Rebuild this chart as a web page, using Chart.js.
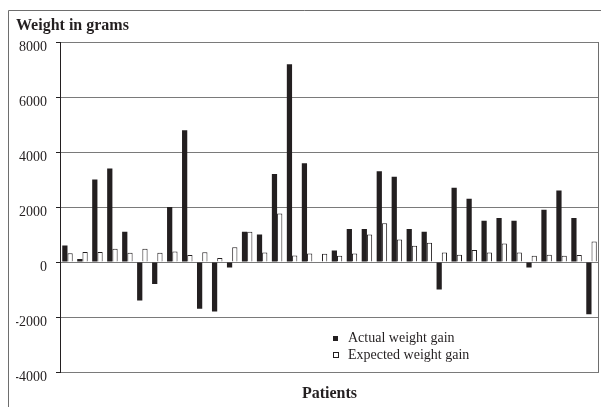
<!DOCTYPE html>
<html>
<head>
<meta charset="utf-8">
<script src="https://cdn.jsdelivr.net/npm/chart.js@4"></script>
<style>
    html, body { margin: 0; padding: 0; background: #fff; }
    #box { width: 601px; height: 407px; }
</style>
</head>
<body>
<div id="box"><canvas id="weight_chart"></canvas></div>
<script>
// patients 1..36, weight gain in grams
const patients = Array.from({ length: 36 }, (_, i) => "P" + (i + 1))
const actual_gain = [600, 110, 3000, 3400, 1100, -1400, -800, 2000, 4800, -1700,
    -1800, -200, 1100, 1000, 3200, 7200, 3600, 0, 420, 1200,
    1200, 3300, 3100, 1200, 1100, -1000, 2700, 2300, 1500, 1600,
    1500, -200, 1900, 2600, 1600, -1900]
const expected_gain = [320, 370, 370, 480, 340, 480, 340, 380, 260, 360,
    150, 540, 1100, 350, 1770, 240, 310, 300, 230, 310,
    1000, 1410, 820, 590, 700, 350, 270, 440, 350, 680,
    350, 230, 270, 230, 260, 750]
const y_ticks = [-4000, -2000, 0, 2000, 4000, 6000, 8000]

const serif = "'Liberation Serif', 'Times New Roman', serif"

// outer frame + right border of the plot + legend inside the plot area
const frame_and_legend = {
    id: "frame_and_legend",
    afterDraw(chart) {
        let ctx = chart.ctx
        let area = chart.chartArea
        ctx.save()
        ctx.strokeStyle = "#6e6e6e"
        ctx.lineWidth = 1
        ctx.beginPath()
        ctx.moveTo(8.5, 407)
        ctx.lineTo(8.5, 10.5)
        ctx.lineTo(601, 10.5)
        ctx.moveTo(area.right - 0.5, area.top)
        ctx.lineTo(area.right - 0.5, area.bottom)
        ctx.stroke()

        let sets = chart.data.datasets
        ctx.font = "14px " + serif
        ctx.textBaseline = "middle"
        ctx.fillStyle = "#231f20"
        sets.forEach((ds, i) => {
            let y = 338 + i * 17
            if (i == 0) {
                ctx.fillRect(333, y - 2, 5, 5)
            } else {
                ctx.fillStyle = "#fff"
                ctx.fillRect(333.5, y - 2.5, 5, 5)
                ctx.strokeStyle = "#231f20"
                ctx.strokeRect(333.5, y - 2.5, 5, 5)
            }
            ctx.fillStyle = "#231f20"
            ctx.fillText(ds.label, 348, y)
        })
        ctx.restore()
    }
}

let chart_el = document.querySelector("#weight_chart")
new Chart(chart_el, {
    type: "bar",
    data: {
        labels: patients,
        datasets: [{
            label: "Actual weight gain",
            data: actual_gain,
            backgroundColor: "#231f20",
            borderWidth: 0,
            categoryPercentage: 0.7,
            barPercentage: 1.0
        }, {
            label: "Expected weight gain",
            data: expected_gain,
            backgroundColor: "#ffffff",
            borderColor: "#231f20",
            borderWidth: 1,
            categoryPercentage: 0.7,
            barPercentage: 1.0
        }]
    },
    options: {
        responsive: true,
        maintainAspectRatio: false,
        animation: false,
        layout: { padding: { left: 16, right: 2, top: 0, bottom: 4 } },
        plugins: {
            legend: { display: false },
            tooltip: { enabled: false },
            title: {
                display: true,
                text: "Weight in grams",
                align: "start",
                color: "#231f20",
                font: { family: serif, size: 16, weight: "bold" },
                padding: { top: 16, bottom: 7 }
            }
        },
        scales: {
            x: {
                afterFit(scale) { scale.height = 31 },
                grid: { display: false },
                border: { display: false },
                ticks: { display: false },
                title: {
                    display: true,
                    text: "Patients",
                    color: "#231f20",
                    font: { family: serif, size: 16, weight: "bold" },
                    padding: { top: 12, bottom: 0 }
                }
            },
            y: {
                min: -4000,
                max: 8000,
                afterFit(scale) { scale.width = 44 },
                afterBuildTicks(scale) { scale.ticks = y_ticks.map(v => ({ value: v })) },
                grid: { color: "#7a7a7a", tickColor: "#231f20", tickLength: 4 },
                border: { display: true, color: "#231f20", width: 1 },
                ticks: {
                    color: "#231f20",
                    padding: 9,
                    labelOffset: 5,
                    font: { family: serif, size: 14 },
                    callback: v => String(v)
                }
            }
        }
    },
    plugins: [frame_and_legend]
})
</script>
</body>
</html>
